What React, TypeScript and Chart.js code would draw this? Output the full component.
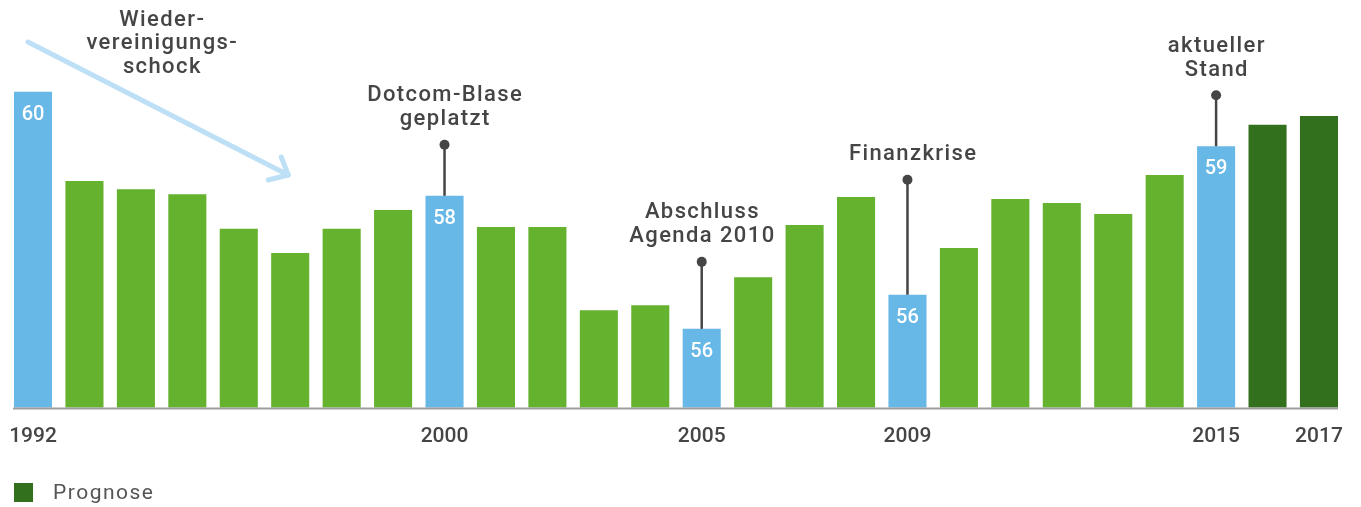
import React, { useEffect, useRef } from 'react';
import { Chart, registerables } from 'chart.js';

Chart.register(...registerables);

// ---- data ----
const years = [
  '1992', '1993', '1994', '1995', '1996', '1997', '1998', '1999', '2000', '2001',
  '2002', '2003', '2004', '2005', '2006', '2007', '2008', '2009', '2010', '2011',
  '2012', '2013', '2014', '2015', '2016', '2017',
];
const values = [
  59.94, 58.32, 58.17, 58.08, 57.45, 57.01, 57.45, 57.79, 58.05, 57.48,
  57.48, 55.97, 56.06, 55.63, 56.57, 57.52, 58.03, 56.25, 57.1, 57.99,
  57.92, 57.72, 58.43, 58.95, 59.34, 59.5,
];
const tickYears = ['1992', '2000', '2005', '2009', '2015', '2017'];
const highlightYears = ['1992', '2000', '2005', '2009', '2015'];
const forecastYears = ['2016', '2017'];
const legendLabel = 'Prognose';
const shockLines = ['Wieder-', 'vereinigungs-', 'schock'];
const calloutYears = ['2000', '2005', '2009', '2015'];
const calloutTexts = [
  ['Dotcom-Blase', 'geplatzt'],
  ['Abschluss', 'Agenda 2010'],
  ['Finanzkrise'],
  ['aktueller', 'Stand'],
];

// ---- styles / layout ----
const Y_MIN = 54.2;
const Y_MAX = 61.61;
const BLUE = '#67B8E6';
const GREEN = '#64B22E';
const DARK = '#33701E';
const TEXT = '#454545';
const ARROW = '#BEE0F7';
const AXIS = '#9d9d9d';
const FONT = 'Roboto, "Noto Sans", sans-serif';
const calloutStems = [51, 67, 115, 51];
const calloutDx = [0, 0, 5, 0];

const barColors = years.map((y) =>
  highlightYears.includes(y) ? BLUE : forecastYears.includes(y) ? DARK : GREEN
);

function spacedText(ctx: CanvasRenderingContext2D, t: string, x: number, y: number, spacing: number, align: 'center' | 'left') {
  (ctx as any).letterSpacing = `${spacing}px`;
  const dx = align === 'center' ? spacing / 2 : 0;
  ctx.fillText(t, x + dx, y);
  (ctx as any).letterSpacing = '0px';
}

const overlayPlugin = {
  id: 'overlay',
  afterDatasetsDraw(chart: any) {
    const ctx: CanvasRenderingContext2D = chart.ctx;
    const meta = chart.getDatasetMeta(0);
    const bars = meta.data as any[];
    const area = chart.chartArea;
    ctx.save();

    // axis line
    const first = bars[0];
    const last = bars[bars.length - 1];
    ctx.fillStyle = AXIS;
    const lx = first.x - first.width / 2 - 1;
    ctx.fillRect(lx, area.bottom, last.x + last.width / 2 - lx, 2);

    ctx.textAlign = 'center';
    ctx.textBaseline = 'middle';

    // value labels in highlighted bars
    ctx.fillStyle = '#ffffff';
    ctx.font = `500 20px ${FONT}`;
    highlightYears.forEach((yr) => {
      const i = years.indexOf(yr);
      const b = bars[i];
      ctx.fillText(String(Math.round(values[i])), b.x, b.y + 23);
    });

    // callouts
    ctx.font = `500 22px ${FONT}`;
    calloutYears.forEach((yr, k) => {
      const i = years.indexOf(yr);
      const b = bars[i];
      const dotY = b.y - calloutStems[k];
      ctx.strokeStyle = TEXT;
      ctx.lineWidth = 2.5;
      ctx.beginPath();
      ctx.moveTo(b.x, b.y);
      ctx.lineTo(b.x, dotY);
      ctx.stroke();
      ctx.fillStyle = TEXT;
      ctx.beginPath();
      ctx.arc(b.x, dotY, 5, 0, Math.PI * 2);
      ctx.fill();
      const lines = calloutTexts[k];
      lines.forEach((t, j) => {
        const y = dotY - 25 - (lines.length - 1 - j) * 24;
        spacedText(ctx, t, b.x + calloutDx[k], y, 1.4, 'center');
      });
    });

    // Wiedervereinigungsschock text + arrow
    const b0 = bars[0];
    const b2 = bars[2];
    const b3 = bars[3];
    const b5 = bars[5];
    const tx = (b2.x + b3.x) / 2;
    ctx.fillStyle = TEXT;
    shockLines.forEach((t, j) => {
      spacedText(ctx, t, tx, area.top + 20 + j * 23.5, 1.4, 'center');
    });
    ctx.strokeStyle = ARROW;
    ctx.lineWidth = 5;
    ctx.lineCap = 'round';
    ctx.lineJoin = 'round';
    const sx = b0.x - 5;
    const sy = area.top + 42;
    const ex = b5.x - 2;
    const ey = area.top + 175;
    ctx.beginPath();
    ctx.moveTo(sx, sy);
    ctx.lineTo(ex, ey);
    ctx.stroke();
    ctx.beginPath();
    ctx.moveTo(ex - 7, ey - 18);
    ctx.lineTo(ex, ey);
    ctx.lineTo(ex - 20, ey + 5);
    ctx.stroke();

    // legend
    ctx.fillStyle = DARK;
    ctx.fillRect(14, 483, 19, 19);
    ctx.fillStyle = '#555555';
    ctx.textAlign = 'left';
    ctx.font = `400 21px ${FONT}`;
    spacedText(ctx, legendLabel, 53, 494, 1.5, 'left');

    ctx.restore();
  },
};

export default function App() {
  const ref = useRef<HTMLCanvasElement | null>(null);
  useEffect(() => {
    if (!ref.current) return;
    const chart = new Chart(ref.current, {
      type: 'bar',
      data: {
        labels: years,
        datasets: [
          {
            label: 'Wert',
            data: values,
            backgroundColor: barColors,
            borderWidth: 0,
            categoryPercentage: 1,
            barPercentage: 0.74,
          },
        ],
      },
      options: {
        animation: false,
        responsive: false,
        devicePixelRatio: 1,
        events: [],
        layout: { padding: { left: 7.3, right: 16.3, top: 0, bottom: 0 } },
        plugins: { legend: { display: false }, tooltip: { enabled: false } },
        scales: {
          x: {
            grid: { display: false, drawTicks: false },
            border: { display: false },
            ticks: {
              autoSkip: false,
              maxRotation: 0,
              minRotation: 0,
              padding: 17,
              color: TEXT,
              font: { family: FONT, size: 21, weight: '500' },
              callback: (_v: any, i: number) => (tickYears.includes(years[i]) ? years[i] : ''),
            },
            afterFit: (s: any) => {
              s.height = 99.5;
              s.paddingLeft = 0;
              s.paddingRight = 0;
            },
          },
          y: { display: false, min: Y_MIN, max: Y_MAX },
        },
      },
      plugins: [overlayPlugin],
    });
    return () => chart.destroy();
  }, []);
  return (
    <div style={{ position: 'fixed', left: 0, top: 0, width: 1361, height: 507, background: '#fff' }}>
      <canvas ref={ref} width={1361} height={507} style={{ width: 1361, height: 507, display: 'block' }} />
    </div>
  );
}
